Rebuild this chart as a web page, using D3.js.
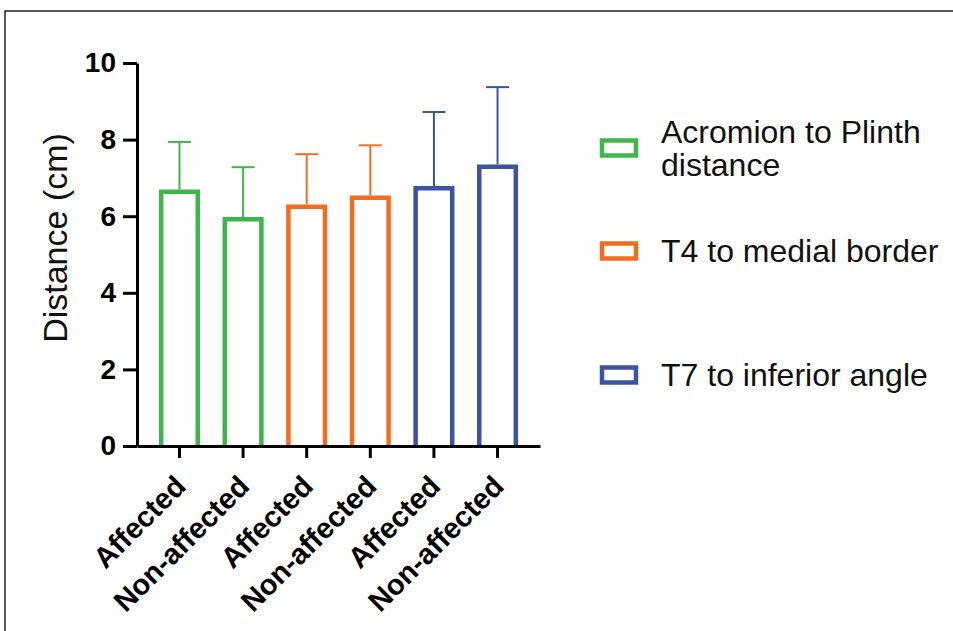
<!DOCTYPE html>
<html>
<head>
<meta charset="utf-8">
<script src="https://cdn.jsdelivr.net/npm/d3@7"></script>
<style>
  html, body { margin: 0; padding: 0; background: #fff; }
  svg { display: block; font-family: 'Liberation Sans', Arial, sans-serif; }
</style>
</head>
<body>
<svg id="chart" width="953" height="631"></svg>
<script>
// bar categories (x axis) and which measurement group each bar belongs to
const categories = ['Affected', 'Non-affected', 'Affected', 'Non-affected', 'Affected', 'Non-affected']
const groupOf = [0, 0, 1, 1, 2, 2]
// mean distance and SD (cm)
const means = [6.64, 5.92, 6.25, 6.48, 6.73, 7.29]
const sds = [1.30, 1.36, 1.37, 1.37, 1.99, 2.08]
const yTicks = [0, 2, 4, 6, 8, 10]
const groups = [['Acromion to Plinth', 'distance'], ['T4 to medial border'], ['T7 to inferior angle']]
const colors = ['#3fb54a', '#f36d21', '#3a53a4']

const svg = d3.select('#chart')

// frame lines (top and left only)
svg.append('path')
  .attr('d', 'M5,631V11H953')
  .attr('fill', 'none')
  .attr('stroke', '#222')
  .attr('stroke-width', 1.5)

const x = d3.scaleBand()
  .domain(d3.range(categories.length))
  .range([137, 540])
  .paddingInner(0.425)
  .paddingOuter(0.38)

const y = d3.scaleLinear()
  .domain([0, 10])
  .range([446, 63])

const data = means.map((m, i) => ({ i, mean: m, sd: sds[i], color: colors[groupOf[i]] }))

// bars: open-bottom outlines
svg.selectAll('.bar')
  .data(data)
  .enter().append('path')
  .attr('class', 'bar')
  .attr('d', d => `M${x(d.i)},${y(0)}V${y(d.mean)}H${x(d.i) + x.bandwidth()}V${y(0)}`)
  .attr('fill', '#fff')
  .attr('stroke', d => d.color)
  .attr('stroke-width', 4.5)

// error bars (upper only)
const capW = 23
const err = svg.selectAll('.err')
  .data(data)
  .enter().append('g')
  .attr('class', 'err')
  .attr('stroke', d => d.color)
  .attr('stroke-width', 2)
err.append('line')
  .attr('x1', d => x(d.i) + x.bandwidth() / 2)
  .attr('x2', d => x(d.i) + x.bandwidth() / 2)
  .attr('y1', d => y(d.mean) - 2.25)
  .attr('y2', d => y(d.mean + d.sd))
err.append('line')
  .attr('x1', d => x(d.i) + x.bandwidth() / 2 - capW / 2)
  .attr('x2', d => x(d.i) + x.bandwidth() / 2 + capW / 2)
  .attr('y1', d => y(d.mean + d.sd))
  .attr('y2', d => y(d.mean + d.sd))

// y axis
const yAxis = svg.append('g')
  .attr('transform', 'translate(137,0)')
  .call(d3.axisLeft(y).tickValues(yTicks).tickSize(14).tickSizeOuter(0).tickPadding(7))
yAxis.select('.domain').attr('stroke', '#000').attr('stroke-width', 3)
yAxis.selectAll('.tick line').attr('stroke', '#000').attr('stroke-width', 3)
yAxis.selectAll('.tick text')
  .attr('font-family', "'Liberation Sans', Arial, sans-serif")
  .attr('font-size', 28)
  .attr('font-weight', 'bold')
  .attr('fill', '#000')

// x axis
const xAxis = svg.append('g')
  .attr('transform', `translate(0,${y(0)})`)
  .call(d3.axisBottom(x).tickSize(12).tickSizeOuter(0).tickFormat(i => categories[i]))
xAxis.select('.domain').attr('stroke', '#000').attr('stroke-width', 3)
xAxis.selectAll('.tick line').attr('stroke', '#000').attr('stroke-width', 3)
xAxis.selectAll('.tick text')
  .attr('font-family', "'Liberation Sans', Arial, sans-serif")
  .attr('font-size', 29)
  .attr('font-weight', 'bold')
  .attr('fill', '#000')
  .attr('text-anchor', 'end')
  .attr('dy', null)
  .attr('y', 0)
  .attr('transform', 'translate(8,42) rotate(-45)')

// y axis title
svg.append('text')
  .attr('transform', 'translate(67,238) rotate(-90)')
  .attr('text-anchor', 'middle')
  .attr('font-size', 34)
  .attr('fill', '#111')
  .text('Distance (cm)')

// legend
const legendY = [148, 251, 375]
const legend = svg.selectAll('.legend')
  .data(groups)
  .enter().append('g')
  .attr('class', 'legend')
  .attr('transform', (d, i) => `translate(602,${legendY[i]})`)
legend.append('rect')
  .attr('x', 0)
  .attr('y', -7.5)
  .attr('width', 34)
  .attr('height', 15)
  .attr('fill', '#fff')
  .attr('stroke', (d, i) => colors[i])
  .attr('stroke-width', 4.5)
legend.append('text')
  .attr('x', 59)
  .attr('font-size', 32)
  .attr('fill', '#111')
  .each(function (d) {
    const t = d3.select(this)
    const lh = 33
    const start = -(d.length - 1) * lh / 2 + 11
    d.forEach((line, k) => {
      t.append('tspan').attr('x', 59).attr('y', start + k * lh).text(line)
    })
  })
</script>
</body>
</html>
